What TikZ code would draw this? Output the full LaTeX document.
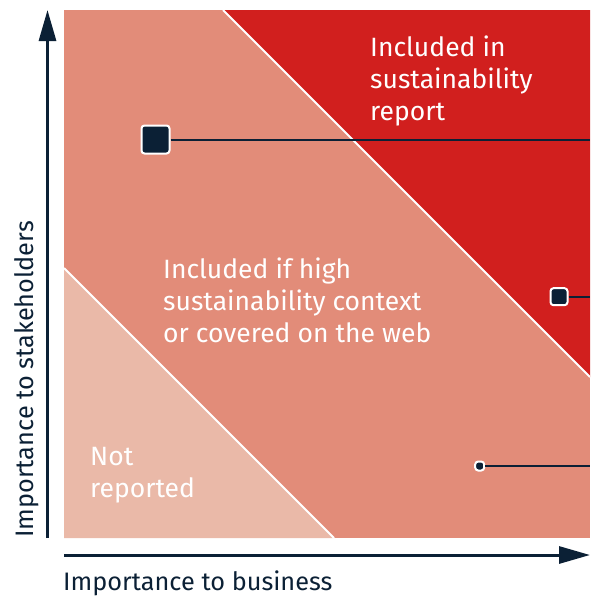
\documentclass[tikz,border=0pt]{standalone}
\usepackage{fontspec}
\setmainfont{Fira Sans}
\usetikzlibrary{arrows.meta}
\definecolor{hired}{HTML}{D11F1E}
\definecolor{midsal}{HTML}{E28C79}
\definecolor{lightsal}{HTML}{EAB9A8}
\definecolor{navy}{HTML}{0B2035}
\tikzset{
  marker/.style={fill=navy, draw=white, line width=2pt, rounded corners=3pt,
    minimum size=#1, inner sep=0pt, outer sep=1pt},
  leader/.style={draw=navy, line width=2pt},
  regiontext/.style={text=white, font=\fontsize{26.5}{32}\selectfont, align=left,
    inner sep=0pt, anchor=north west},
  axislabel/.style={text=navy, font=\fontsize{25.3}{32}\selectfont, inner sep=0pt, anchor=base west},
  axisline/.style={draw=navy, line width=3pt, -{Triangle[length=31pt,width=17pt]}},
  divider/.style={draw=white, line width=2pt}
}
\begin{document}
\begin{tikzpicture}[x=1pt,y=-1pt]
\useasboundingbox (0,0) rectangle (590,597);
% regions
\fill[midsal] (64,10) rectangle (590,538);
\fill[hired] (223,10) -- (590,10) -- (590,377) -- cycle;
\fill[lightsal] (64,268) -- (334,538) -- (64,538) -- cycle;
\begin{scope}
  \clip (64,10) rectangle (590,538);
  \draw[divider] (223,10) -- (590,377);
  \draw[divider] (64,268) -- (334,538);
\end{scope}
% axes
\coordinate (yfoot) at (47.5,538);
\coordinate (ytip) at (47.5,10);
\coordinate (xfoot) at (64,555);
\coordinate (xtip) at (590,555);
\draw[axisline] (yfoot) -- (ytip);
\draw[axisline] (xfoot) -- (xtip);
% axis labels
\node[axislabel] (xlab) at (63,590) {Importance to business};
\node[axislabel, rotate=90] (ylab) at (33,538) {Importance to stakeholders};
% region labels
\node[regiontext] (top) at (370,36) {Included in\\sustainability\\report};
\node[regiontext] (mid) at (163,258) {Included if high\\sustainability context\\or covered on the web};
\node[regiontext] (low) at (90,447) {Not\\reported};
% markers
\node[marker=28pt] (big) at (155.5,139.5) {};
\node[marker=17pt] (medium) at (559,296.7) {};
\node[marker=9pt] (small) at (479.7,466) {};
\coordinate (bigend) at (590,139.5);
\coordinate (mediumend) at (590,296.7);
\coordinate (smallend) at (590,466);
\draw[leader] (big) -- (bigend);
\draw[leader] (medium) -- (mediumend);
\draw[leader] (small) -- (smallend);
\end{tikzpicture}
\end{document}
